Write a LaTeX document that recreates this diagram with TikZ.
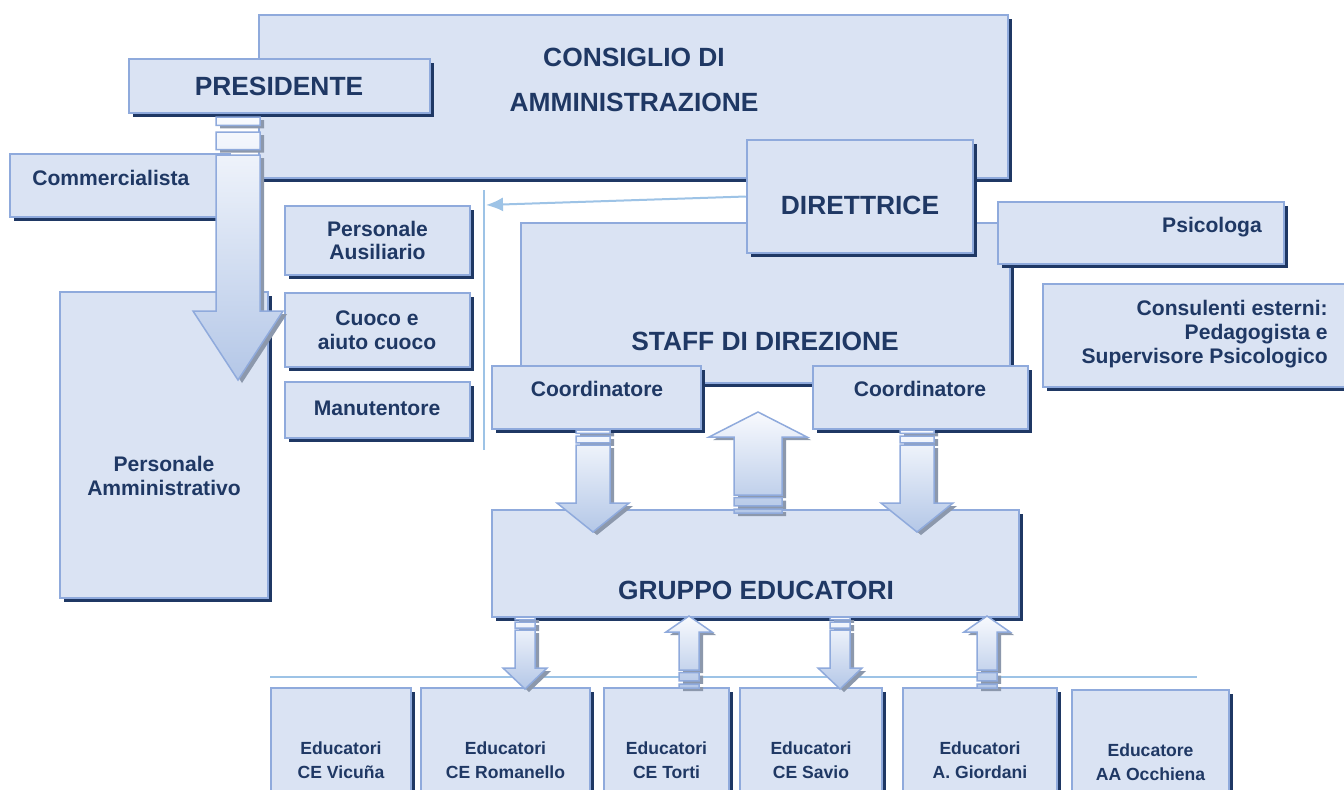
\documentclass[tikz,border=0pt]{standalone}
\usepackage{fontspec}
\setmainfont{Liberation Sans}
\usepackage{tikz}
\usetikzlibrary{positioning}
\usetikzlibrary{arrows.meta}
\usetikzlibrary{calc}
\usetikzlibrary{fit}

\definecolor{boxfill}{RGB}{218,227,243}
\definecolor{boxline}{RGB}{143,170,220}
\definecolor{navy}{RGB}{31,56,100}
\definecolor{arrowtop}{RGB}{248,250,254}
\definecolor{arrowbot}{RGB}{180,199,231}
\definecolor{arrowshade}{RGB}{140,152,172}
\definecolor{thinline}{RGB}{157,195,230}

\begin{document}
\begin{tikzpicture}[ x = 0.02cm
                   , y = -0.02cm
                   , >={Latex[width=0.28cm, length=0.34cm]}
                   ]

    \tikzset{ box/.style = { draw = boxline
                           , line width = 0.05cm
                           , fill = boxfill
                           , inner sep = 0pt
                           , preaction = {fill = navy,
                               transform canvas = {shift = {(0.08cm,-0.08cm)}}}}
            , txt/.style = {text = navy, align = center, inner sep = 0pt}
            , big/.style = {font = \fontsize{15}{26}\selectfont\bfseries}
            , mid/.style = {font = \fontsize{12}{13.6}\selectfont\bfseries}
            , small/.style = {font = \fontsize{10}{13.6}\selectfont\bfseries}
            , blockarrow/.style = { draw = boxline
                                  , line width = 0.03cm
                                  , top color = arrowtop
                                  , bottom color = arrowbot
                                  , preaction = {fill = arrowshade,
                                      transform canvas = {shift = {(0.08cm,-0.06cm)}}}}
            , rule/.style = {draw = thinline, line width = 0.04cm}}

    \fill[white] (0,0) rectangle (1344,789);
    \clip (0,0) rectangle (1344,789);
    %%
    %% Nodes
    %%
    \node (consiglio)   [box, fit = {(259,15) (1008,178)}] {};
    \node (consiglio-t) [txt, big] at (634,80) {CONSIGLIO DI\\AMMINISTRAZIONE};
    \node (presidente)   [box, fit = {(129,59) (430,113)}] {};
    \node (presidente-t) [txt, big] at (279,86) {PRESIDENTE};
    \node (commerc)   [box, fit = {(10,154) (230,217)}] {};
    \node (commerc-t) [txt, mid, anchor = west] at (32,178) {Commercialista};
    \node (amministr)   [box, fit = {(60,292) (268,598)}] {};
    \node (amministr-t) [txt, mid] at (164,476) {Personale\\Amministrativo};

    \node (ausil)   [box, fit = {(285,206) (470,275)}] {};
    \node (ausil-t) [txt, mid] at (ausil) {Personale\\Ausiliario};
    \node (cuoco)   [box, fit = {(285,293) (470,367)}] {};
    \node (cuoco-t) [txt, mid] at (377,330) {Cuoco e\\aiuto cuoco};
    \node (manut)   [box, fit = {(285,382) (470,438)}] {};
    \node (manut-t) [txt, mid] at (377,408) {Manutentore};

    \coordinate (vtop) at (484,190);
    \coordinate (vbot) at (484,450);
    \coordinate (vmid) at (486,205);

    \node (staff)   [box, fit = {(521,223) (1010,383)}] {};
    \node (staff-t) [txt, big] at (765,341) {STAFF DI DIREZIONE};
    \node (direttrice)   [box, fit = {(747,140) (973,253)}] {};
    \node (direttrice-t) [txt, big] at (860,205) {DIRETTRICE};
    \node (psicologa)   [box, fit = {(998,202) (1284,264)}] {};
    \node (psicologa-t) [txt, mid] at (1212,227) {Psicologa};
    \node (consulenti)   [box, fit = {(1043,284) (1360,387)}] {};
    \node (consulenti-t) [txt, mid, align = right, anchor = east] at (1328,334)
      {Consulenti esterni:\\Pedagogista e\\Supervisore Psicologico};

    \node (coord1)   [box, fit = {(492,366) (701,429)}] {};
    \node (coord1-t) [txt, mid] at (597,389) {Coordinatore};
    \node (coord2)   [box, fit = {(813,366) (1028,429)}] {};
    \node (coord2-t) [txt, mid] at (920,389) {Coordinatore};

    \node (gruppo)   [box, fit = {(492,510) (1019,617)}] {};
    \node (gruppo-t) [txt, big] at (756,590) {GRUPPO EDUCATORI};

    \coordinate (hleft)  at (270,677);
    \coordinate (hright) at (1197,677);

    \foreach \nm/\xl/\xr/\yt/\lb in
      { vicuna/271/411/688/Educatori\\CE Vicuña
      , romanello/421/590/688/Educatori\\CE Romanello
      , torti/604/729/688/Educatori\\CE Torti
      , savio/740/882/688/Educatori\\CE Savio
      , giordani/903/1057/688/Educatori\\A. Giordani
      , occhiena/1072/1229/690/Educatore\\AA Occhiena}
    {
      \node (\nm)   [box, fit = {(\xl,\yt) (\xr,810)}] {};
      \node (\nm-t) [txt, small] at ({(\xl+\xr)/2},{\yt+72}) {\lb};
    }

    %%
    %% Lines and arrows
    %%
    \draw[rule] (vtop) -- (vbot);
    \draw[rule] (hleft) -- (hright);
    \draw[rule, ->] (direttrice.west) -- (vmid);

    \foreach \xc/\ya/\yb/\yc/\yd/\sw/\hw in
      { 238/117/155/311/380/22/45
      , 593/430/445/503/532/17/36
      , 917/430/445/503/532/17/36
      , 758/513/495/437/412/24/49
      , 525/617/630/668/689/10/22
      , 689/688/670/632/616/10/23
      , 840/617/630/668/689/10/22
      , 987/688/670/632/616/10/23}
    {
      \path[blockarrow]
        ({\xc-\sw},{\ya}) rectangle ({\xc+\sw},{\ya+0.22*(\yb-\ya)})
        ({\xc-\sw},{\ya+0.4*(\yb-\ya)}) rectangle ({\xc+\sw},{\ya+0.86*(\yb-\ya)})
        ({\xc-\sw},{\yb}) -- ({\xc-\sw},{\yc}) -- ({\xc-\hw},{\yc}) -- ({\xc},{\yd})
        -- ({\xc+\hw},{\yc}) -- ({\xc+\sw},{\yc}) -- ({\xc+\sw},{\yb}) -- cycle;
    }
  \end{tikzpicture}
\end{document}
